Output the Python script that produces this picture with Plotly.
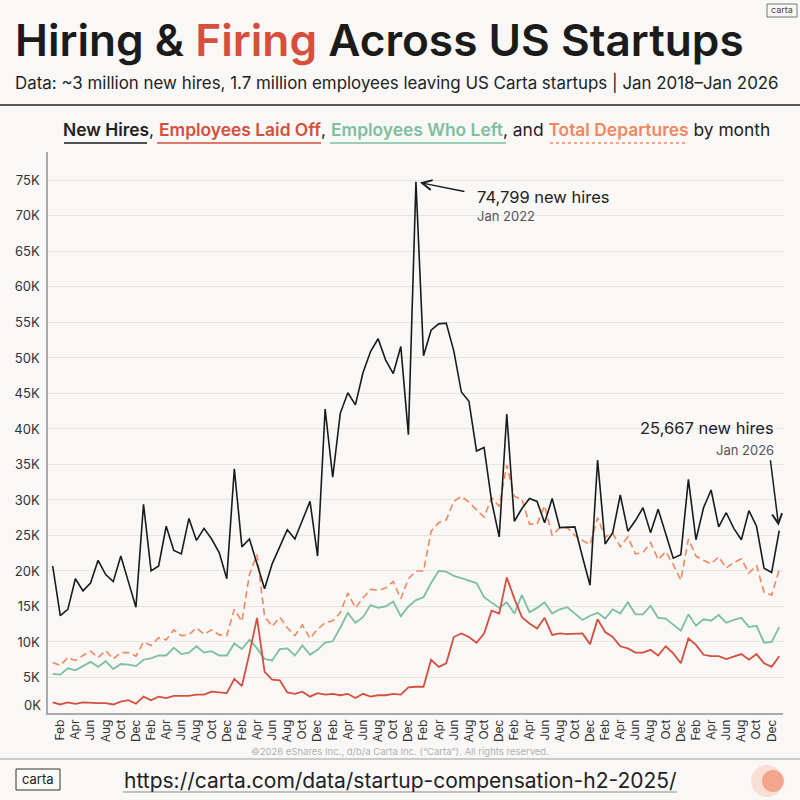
import plotly.graph_objects as go

# month index 0 = Jan 2018 ... 96 = Jan 2026
months = list(range(97))
tick_idx = list(range(1, 97, 2))
tick_text = ["Feb", "Apr", "Jun", "Aug", "Oct", "Dec"] * 8
y_ticks = list(range(0, 80000, 5000))
y_labels = [""] + ["%dK" % (v // 1000) for v in y_ticks[1:]]

new_hires = [
    20700, 13700, 14600, 18900, 17200, 18300, 21500, 19500, 18500, 22100, 18500, 14900,
    29400, 20000, 20700, 26300, 22900, 22400, 27400, 24300, 26000, 24500, 22600, 18900,
    34400, 23400, 24500, 21100, 17500, 21000, 23400, 25800, 24500, 27200, 29800, 22100,
    42800, 33200, 42200, 45100, 43400, 47900, 50900, 52700, 49700, 47800, 51600, 39200,
    74799, 50300, 53900, 54800, 54900, 51000, 45200, 43900, 36900, 37400, 29800, 24800,
    42100, 27000, 28800, 30200, 29800, 26800, 30200, 26100, 26200, 26200, 22000, 18000,
    35600, 23800, 25400, 30700, 25600, 27100, 28900, 25400, 28700, 25300, 21800, 22300,
    32900, 24400, 28900, 31400, 26200, 28200, 26000, 24400, 28500, 26300, 20400, 19800,
    25667,
]
laid_off = [
    1500, 1200, 1500, 1300, 1500, 1400, 1400, 1400, 1200, 1600, 1800, 1300,
    2300, 1800, 2300, 2100, 2400, 2400, 2400, 2600, 2600, 3000, 2900, 2800,
    4800, 3800, 8400, 13400, 5800, 4700, 4600, 2900, 2700, 3000, 2300, 2800,
    2600, 2700, 2500, 2700, 2100, 2700, 2300, 2500, 2500, 2700, 2600, 3600,
    3700, 3700, 7500, 6500, 7000, 10700, 11200, 10700, 9900, 11200, 14400, 14000,
    19100, 16100, 13500, 12600, 11900, 13400, 11000, 11200, 11100, 11100, 11200, 9700,
    13200, 11400, 10700, 9400, 9100, 8500, 8500, 8900, 8100, 9400, 8400, 7000,
    10500, 9600, 8200, 8000, 8000, 7600, 8000, 8300, 7500, 8300, 7000, 6500,
    8000,
]
who_left = [
    5500, 5400, 6300, 6000, 6600, 7200, 6500, 7300, 6200, 6900, 6800, 6600,
    7500, 7700, 8100, 8100, 9200, 8300, 8500, 9400, 8500, 8700, 8100, 8100,
    9800, 9000, 10300, 9100, 7600, 7400, 9000, 9100, 8100, 9500, 8200, 8900,
    9900, 10100, 12000, 14100, 12700, 13500, 15200, 14800, 15000, 15700, 13600, 15000,
    15900, 16300, 18300, 20000, 19900, 19300, 19000, 18600, 18300, 16300, 15500, 14800,
    15600, 14000, 16600, 14200, 14800, 15600, 14000, 14600, 14900, 14000, 13100, 13700,
    14100, 13300, 14600, 14000, 15600, 13900, 13900, 15100, 13400, 13300, 12400, 11600,
    13900, 12300, 13200, 13000, 13800, 12700, 13100, 13400, 12100, 12300, 9900, 10000,
    12100,
]
total_departures = [
    7100, 6700, 7800, 7400, 8100, 8700, 7800, 8800, 7600, 8500, 8500, 8000,
    10000, 9500, 10600, 10300, 11700, 10900, 11000, 12000, 11100, 11700, 11000, 10900,
    14600, 12900, 19500, 22300, 13600, 12200, 13500, 12000, 10900, 12400, 10500, 11800,
    12700, 13000, 14100, 16900, 14800, 16200, 17400, 17300, 17600, 18500, 16100, 18900,
    20000, 20000, 25600, 26800, 27200, 29800, 30500, 29700, 28600, 27600, 30300, 29100,
    34900, 30500, 30100, 26600, 26600, 29200, 25000, 26100, 26100, 25000, 24300, 23700,
    27500, 24800, 25300, 23400, 24800, 22400, 22600, 24000, 21600, 22700, 20900, 18700,
    24500, 22100, 21500, 21000, 22000, 20400, 21200, 21700, 19700, 20800, 17000, 16600,
    20200,
]

BG = "#f9f8f6"
BLACK = "#1b1b1b"
RED = "#d64f3c"
GREEN = "#7dbf9f"
ORANGE = "#f2875e"
FONT = "Inter"

# plot area in page pixels
L, R, T, B = 48, 783, 152, 713
W, H = 800, 800


def px(x):
    return (x - L) / (R - L)


def py(y):
    return (B - y) / (B - T)


fig = go.Figure()
fig.add_trace(go.Scatter(x=months, y=total_departures, mode="lines",
                         line=dict(color=ORANGE, width=1.6, dash="7px,4px")))
fig.add_trace(go.Scatter(x=months, y=who_left, mode="lines",
                         line=dict(color=GREEN, width=1.8)))
fig.add_trace(go.Scatter(x=months, y=laid_off, mode="lines",
                         line=dict(color=RED, width=1.8)))
fig.add_trace(go.Scatter(x=months, y=new_hires, mode="lines",
                         line=dict(color=BLACK, width=1.6)))

ann = []


def text(x, y, s, size, color=BLACK, anchor="left", weight=400, **kw):
    ann.append(dict(x=px(x), y=py(y), xref="paper", yref="paper", text=s,
                    showarrow=False, xanchor=anchor, yanchor="middle",
                    font=dict(family=FONT, size=size, color=color, weight=weight), **kw))


text(13, 40, "Hiring & <span style='color:%s'>Firing</span> Across US Startups" % RED,
     44.2, weight=600)
text(13, 83, "Data: ~3 million new hires, 1.7 million employees leaving US Carta "
     "startups | Jan 2018\u2013Jan 2026", 16.9, color="#222")
legend = ("<span style='font-weight:600'>New Hires</span>, "
          "<span style='color:%s;font-weight:600'>Employees Laid Off</span>, "
          "<span style='color:%s;font-weight:600'>Employees Who Left</span>, and "
          "<span style='color:%s;font-weight:600'>Total Departures</span> by month"
          % (RED, GREEN, ORANGE))
text(416, 129, legend, 17.4, color="#222", anchor="center")

text(475, 197, "74,799 new hires", 16.5, color="#222")
text(475, 216, "Jan 2022", 13, color="#555")
text(776, 428, "25,667 new hires", 16.5, color="#222", anchor="right")
text(776, 450, "Jan 2026", 13, color="#555", anchor="right")

# zero label sits a little above the axis line in the original
text(43, 705, "0K", 13, color="#333", anchor="right")

text(400, 751, "\u00a92026 eShares Inc., d/b/a Carta Inc. (\u201cCarta\u201d). "
     "All rights reserved.", 9.5, color="#b0b0b0", anchor="center")
text(400, 780, "https://carta.com/data/startup-compensation-h2-2025/", 21,
     color="#222", anchor="center")
text(38, 779, "carta", 13, color="#222", anchor="center")
text(782, 10, "carta", 9, color="#444", anchor="center")

# arrows
ann.append(dict(x=48, y=new_hires[48], xref="x", yref="y", text="", showarrow=True,
                arrowhead=5, arrowsize=1.3, arrowwidth=1.5, arrowcolor=BLACK,
                ax=50, ay=10, standoff=4))
ann.append(dict(x=96, y=new_hires[96], xref="x", yref="y", text="", showarrow=True,
                arrowhead=5, arrowsize=1.3, arrowwidth=1.5, arrowcolor=BLACK,
                ax=-9, ay=-72, standoff=5))

shapes = [
    dict(type="line", xref="paper", yref="paper", x0=px(0), x1=px(800),
         y0=py(105), y1=py(105), line=dict(color="#222", width=1.5)),
    dict(type="line", xref="paper", yref="paper", x0=px(0), x1=px(800),
         y0=py(759), y1=py(759), line=dict(color="#bdbdbd", width=1.5)),
    dict(type="line", xref="paper", yref="paper", x0=px(64), x1=px(147),
         y0=py(143), y1=py(143), line=dict(color=BLACK, width=1.5)),
    dict(type="line", xref="paper", yref="paper", x0=px(157), x1=px(321),
         y0=py(143), y1=py(143), line=dict(color=RED, width=1.5)),
    dict(type="line", xref="paper", yref="paper", x0=px(330), x1=px(506),
         y0=py(143), y1=py(143), line=dict(color=GREEN, width=1.5)),
    dict(type="line", xref="paper", yref="paper", x0=px(550), x1=px(687),
         y0=py(143), y1=py(143), line=dict(color=ORANGE, width=1.5, dash="dot")),
    dict(type="line", xref="paper", yref="paper", x0=px(123), x1=px(677),
         y0=py(792), y1=py(792), line=dict(color="#888", width=1)),
    dict(type="rect", xref="paper", yref="paper", x0=px(16), x1=px(60),
         y0=py(769), y1=py(790), line=dict(color="#333", width=1)),
    dict(type="rect", xref="paper", yref="paper", x0=px(767), x1=px(797),
         y0=py(4), y1=py(17), line=dict(color="#555", width=0.8)),
    dict(type="circle", xref="paper", yref="paper", x0=px(751), x1=px(783),
         y0=py(765), y1=py(797), line=dict(width=0),
         fillcolor="rgba(246,190,170,0.45)"),
    dict(type="circle", xref="paper", yref="paper", x0=px(762), x1=px(784),
         y0=py(770), y1=py(792), line=dict(width=0),
         fillcolor="rgba(240,120,80,0.55)"),
]

fig.update_layout(
    width=W, height=H,
    margin=dict(l=L, r=W - R, t=T, b=H - B, autoexpand=False),
    paper_bgcolor=BG, plot_bgcolor=BG,
    showlegend=False,
    font=dict(family=FONT, color="#333"),
    annotations=ann,
    shapes=shapes,
    xaxis=dict(range=[-0.62, 96.5], tickvals=tick_idx, ticktext=tick_text,
               tickangle=-90, tickfont=dict(size=12, color="#333"),
               showgrid=False, zeroline=False, showline=True, automargin=False,
               linecolor="#aaa", linewidth=1.5, ticks=""),
    yaxis=dict(range=[0, 79000], tickvals=y_ticks, ticktext=y_labels,
               tickfont=dict(size=13, color="#333"), automargin=False,
               showgrid=True, gridcolor="#e6e5e2", gridwidth=1,
               zeroline=False, showline=True, linecolor="#aaa", linewidth=1.5,
               ticks="", ticklabelstandoff=4),
)

fig.write_html("out.html", config={"displayModeBar": False},
               post_script="document.body.style.margin='0';"
               "document.body.style.background='%s';" % BG)
